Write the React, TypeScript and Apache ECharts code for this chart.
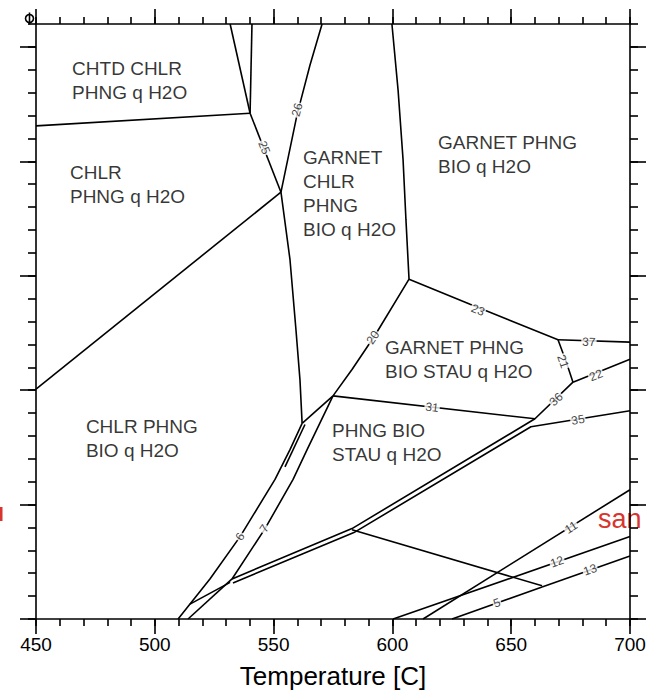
import React, { useEffect, useRef } from "react";
import * as echarts from "echarts";

// Axis ranges / ticks
const tempMin = 450;
const tempMax = 700;
const tempMajorStep = 50;
const tempMinorStep = 10;
const pressMin = 3;
const pressMax = 8.2;
const pressMinorStep = 0.2;
const pressMajorTicks = [3, 4, 5, 6, 7, 8];

// Phase boundaries [T (C), P (kbar)]
const chtdBoundary = [[450, 7.31], [540.1, 7.42]];
const topLeftA = [[531.7, 8.2], [540.1, 7.42]];
const topLeftB = [[540.9, 8.2], [540.1, 7.42]];
const line25 = [[540.1, 7.42], [553.1, 6.73]];
const line26 = [[570.4, 8.2], [565.3, 7.84], [559.9, 7.41], [553.1, 6.73]];
const chlrBoundary = [[450, 5.01], [553.1, 6.73]];
const garnetLeft = [[553.1, 6.73], [556.9, 6.14], [559.4, 5.53], [561.1, 5.09], [562.0, 4.71]];
const garnetRight = [[599.8, 8.2], [602.4, 7.62], [604.5, 7.01], [605.7, 6.49], [607.0, 5.97]];
const line23 = [[607.0, 5.97], [632.7, 5.75], [669.7, 5.44]];
const line37 = [[669.7, 5.44], [700, 5.42]];
const line21 = [[669.7, 5.44], [673.1, 5.25], [676.0, 5.07]];
const line22 = [[676.0, 5.07], [700, 5.27]];
const line36 = [[676.0, 5.07], [660.0, 4.75], [583.0, 3.79], [532.5, 3.35]];
const line35 = [[700, 4.82], [658.3, 4.68], [583.8, 3.755], [532.9, 3.315]];
const line31 = [[575.0, 4.95], [660.0, 4.75]];
const line20 = [[607.0, 5.97], [592.7, 5.48], [583.0, 5.18], [575.0, 4.95]];
const connector = [[562.0, 4.71], [575.0, 4.95]];
const line7 = [[575.0, 4.95], [564.1, 4.48], [558.2, 4.22], [546.4, 3.79], [532.5, 3.35]];
const line6 = [[562.0, 4.71], [556.9, 4.48], [550.6, 4.22], [535.9, 3.72], [523.2, 3.35], [509.8, 3.0]];
const tailA = [[532.5, 3.35], [514.0, 3.0]];
const tailB = [[531.7, 3.32], [514.8, 3.13]];
const sliver = [[563.2, 4.70], [554.8, 4.33]];
const crossLine = [[583.0, 3.78], [663.0, 3.29]];
const line11 = [[612.9, 3.0], [700, 4.13]];
const line12 = [[600.3, 3.0], [700, 3.72]];
const line5 = [[625.1, 3.0], [663.0, 3.28]];
const line13 = [[663.0, 3.28], [700, 3.55]];

const boundaries = [
  chtdBoundary, topLeftA, topLeftB, line25, line26, chlrBoundary, garnetLeft, garnetRight,
  line23, line37, line21, line22, line36, line35, line31, line20, connector, line7, line6,
  tailA, tailB, sliver, crossLine, line11, line12, line5, line13,
];

// Reaction numbers on lines
const reactionNames = ["25", "26", "20", "23", "37", "21", "22", "36", "31", "35", "6", "7", "11", "12", "13", "5"];
const reactionPoints = [
  [546.0, 7.12], [559.9, 7.45], [591.8, 5.46], [636.0, 5.70], [682.7, 5.42], [671.8, 5.25],
  [685.7, 5.13], [668.9, 4.92], [616.7, 4.85], [678.1, 4.74], [535.9, 3.72], [546.0, 3.79],
  [675.2, 3.80], [669.3, 3.50], [683.2, 3.43], [644.0, 3.14],
];
const reactionAngles = [-68, 75, 56, -22, -2, -71, 22, 44, -7, 10, 59, 57, 32, 19, 19, 19];

// Field (assemblage) labels
const fieldNames = [
  "CHTD CHLR\nPHNG q H2O",
  "CHLR\nPHNG q H2O",
  "GARNET\nCHLR\nPHNG\nBIO q H2O",
  "GARNET PHNG\nBIO q H2O",
  "GARNET PHNG\nBIO STAU q H2O",
  "CHLR PHNG\nBIO q H2O",
  "PHNG BIO\nSTAU q H2O",
];
const fieldPoints = [
  [465.2, 7.92], [464.3, 7.01], [562.4, 7.14], [619.2, 7.27], [596.9, 5.48], [471.0, 4.79], [574.6, 4.75],
];

const FONT = "'Liberation Sans', Arial, Helvetica, sans-serif";
const INK = "#000";
const RED = "#d8352e";

export default function App() {
  const ref = useRef<HTMLDivElement>(null);
  useEffect(() => {
    if (!ref.current) return;
    const chart = echarts.init(ref.current, undefined, { renderer: "svg" });
    const axisLine = { show: true, lineStyle: { color: INK, width: 1.6 } };
    const baseX = { type: "value", min: tempMin, max: tempMax, splitLine: { show: false } };
    const baseY = { type: "value", min: pressMin, max: pressMax, splitLine: { show: false } };
    const lineSeries = boundaries.map((pts, i) => ({
      type: "line",
      name: "b" + i,
      data: pts,
      showSymbol: false,
      symbol: "none",
      silent: true,
      lineStyle: { color: INK, width: 1.6 },
      z: 2,
    }));
    chart.setOption({
      animation: false,
      backgroundColor: "#fff",
      textStyle: { fontFamily: FONT },
      grid: { left: 36, right: 34, top: 24, bottom: 74, containLabel: false },
      xAxis: [
        { ...baseX, position: "bottom", interval: tempMinorStep, axisLine, axisTick: { length: 7, lineStyle: { color: INK, width: 1.6 } }, axisLabel: { show: false } },
        {
          ...baseX, position: "bottom", interval: tempMajorStep, axisLine: { show: false },
          axisTick: { length: 15, lineStyle: { color: INK, width: 1.6 } },
          axisLabel: { show: true, fontSize: 19, color: INK, margin: 16, fontFamily: FONT },
          name: "Temperature [C]", nameLocation: "middle", nameGap: 44,
          nameTextStyle: { fontSize: 26, color: INK, fontFamily: FONT },
        },
        { ...baseX, position: "top", interval: tempMinorStep, axisLine, axisTick: { length: 7, lineStyle: { color: INK, width: 1.6 } }, axisLabel: { show: false } },
        { ...baseX, position: "top", interval: tempMajorStep, axisLine: { show: false }, axisTick: { length: 15, lineStyle: { color: INK, width: 1.6 } }, axisLabel: { show: false } },
      ],
      yAxis: [
        { ...baseY, position: "left", interval: pressMinorStep, axisLine, axisTick: { length: 8, lineStyle: { color: INK, width: 1.6 } }, axisLabel: { show: false } },
        { ...baseY, position: "left", interval: 1, axisLine: { show: false }, axisTick: { length: 16, customValues: pressMajorTicks, lineStyle: { color: INK, width: 1.6 } }, axisLabel: { show: false } },
        { ...baseY, position: "right", interval: pressMinorStep, axisLine, axisTick: { length: 8, lineStyle: { color: INK, width: 1.6 } }, axisLabel: { show: false } },
        { ...baseY, position: "right", interval: 1, axisLine: { show: false }, axisTick: { length: 16, customValues: pressMajorTicks, lineStyle: { color: INK, width: 1.6 } }, axisLabel: { show: false } },
      ],
      series: [
        ...lineSeries,
        {
          type: "scatter",
          name: "reactions",
          symbol: "circle",
          symbolSize: 1,
          itemStyle: { color: "rgba(0,0,0,0)" },
          silent: true,
          z: 5,
          data: reactionNames.map((n, i) => ({
            name: n,
            value: reactionPoints[i],
            label: { rotate: reactionAngles[i] },
          })),
          label: {
            show: true,
            position: "inside",
            formatter: "{b}",
            fontSize: 12,
            color: "#111",
            fontFamily: FONT,
            backgroundColor: "#fff",
            padding: [0, 1],
            align: "center",
            verticalAlign: "middle",
          },
        },
        {
          type: "scatter",
          name: "fields",
          symbol: "circle",
          symbolSize: 1,
          itemStyle: { color: "rgba(0,0,0,0)" },
          silent: true,
          z: 6,
          data: fieldNames.map((n, i) => ({ name: n, value: fieldPoints[i] })),
          label: {
            show: true,
            position: "inside",
            formatter: "{b}",
            fontSize: 19,
            lineHeight: 24,
            color: INK,
            fontFamily: FONT,
            align: "left",
            verticalAlign: "top",
          },
        },
      ],
      graphic: [
        {
          type: "group",
          left: 23,
          top: 10,
          children: [
            { type: "circle", shape: { cx: 6, cy: 7, r: 4 }, style: { fill: "none", stroke: INK, lineWidth: 1.6 } },
            { type: "line", shape: { x1: 6, y1: 1, x2: 6, y2: 13 }, style: { stroke: INK, lineWidth: 1.6 } },
          ],
        },
        { type: "text", x: 598, y: 519, style: { text: "san", fill: RED, fontSize: 27, fontFamily: FONT, verticalAlign: "middle", align: "left" } },
        { type: "rect", shape: { x: 0, y: 507, width: 2.5, height: 14 }, style: { fill: RED } },
      ],
    });
    return () => chart.dispose();
  }, []);
  return (
    <div
      ref={ref}
      style={{ position: "fixed", left: 0, top: 0, width: 664, height: 694, background: "#fff" }}
    />
  );
}
